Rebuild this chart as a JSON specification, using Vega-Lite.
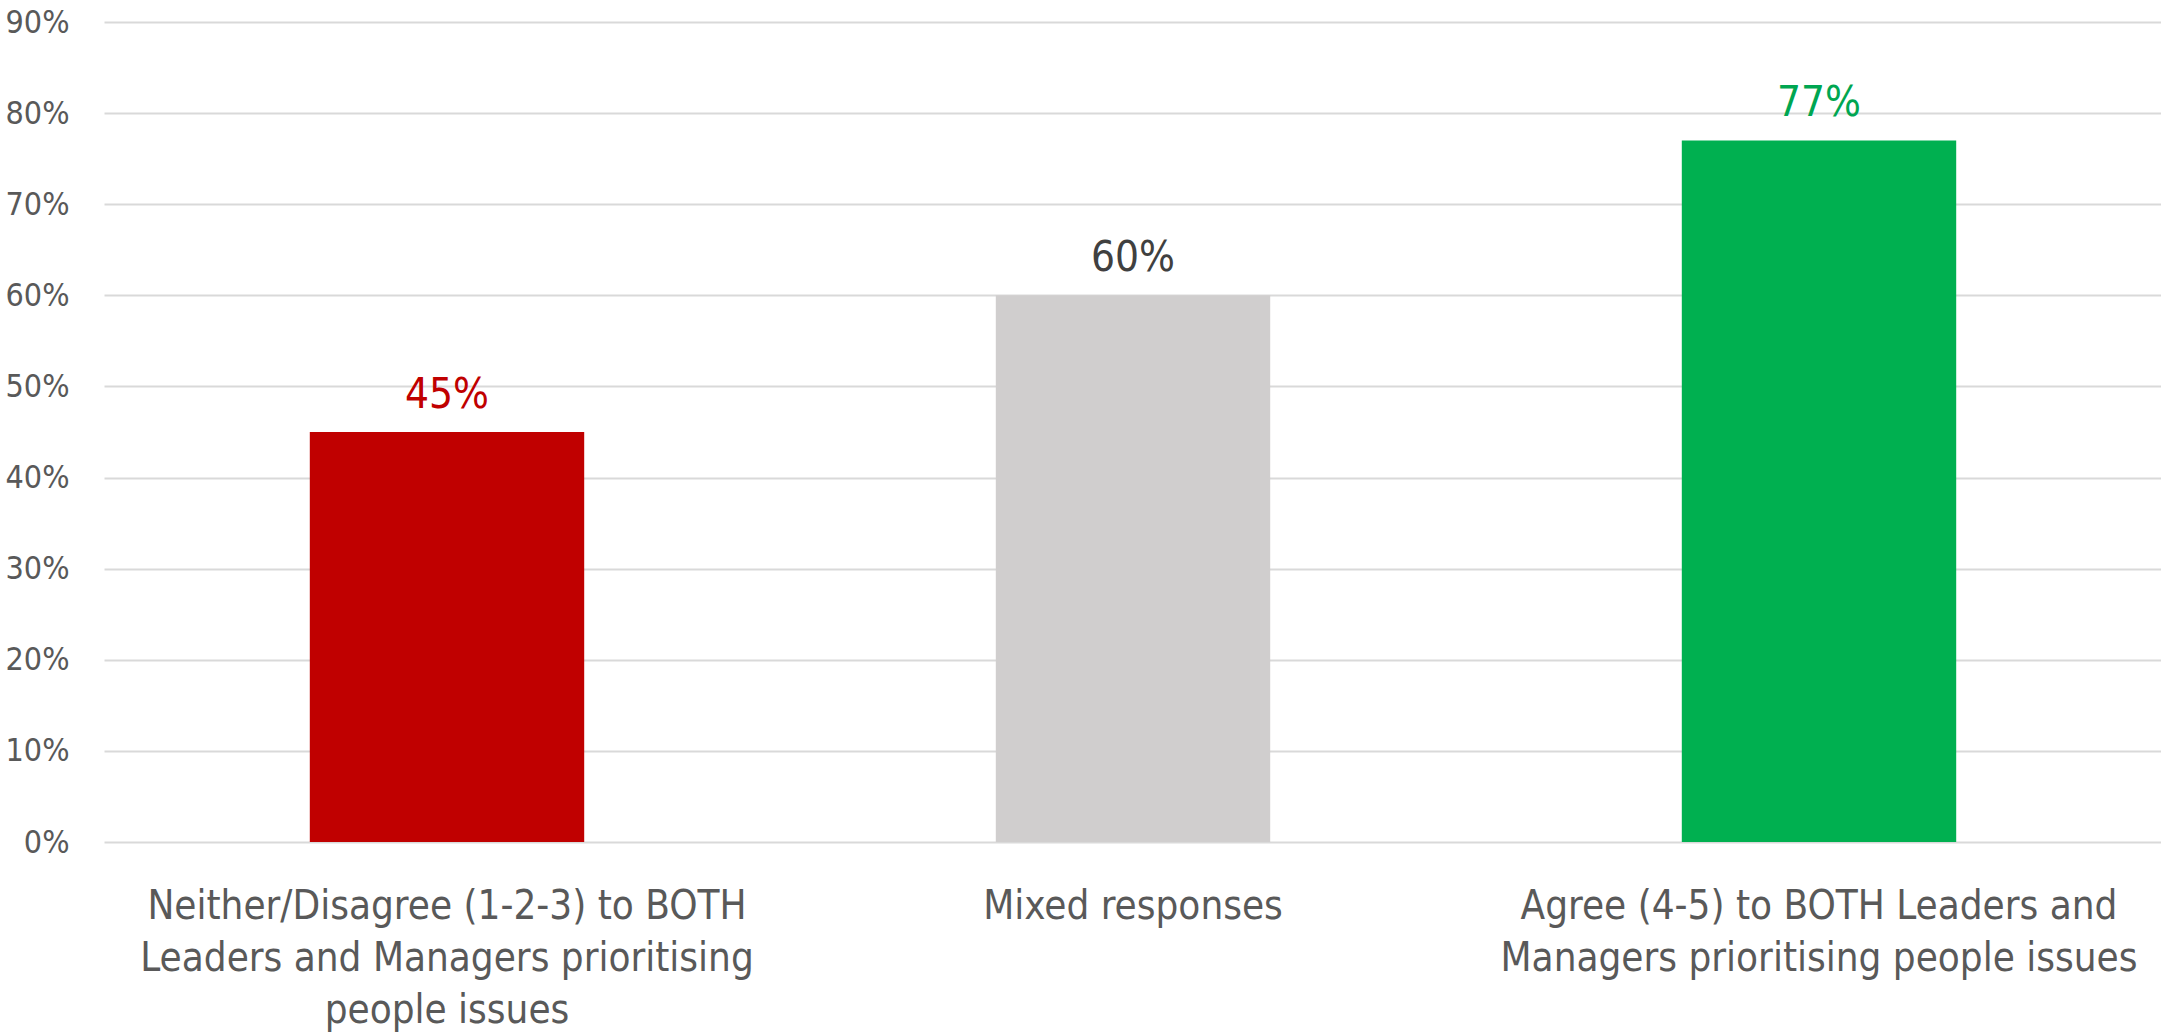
{
  "$schema": "https://vega.github.io/schema/vega-lite/v6.json",
  "width": 2058,
  "height": 820,
  "autosize": {"type": "none"},
  "padding": {"left": 104, "top": 22, "right": 0, "bottom": 191},
  "background": "white",
  "config": {"view": {"stroke": null}},
  "data": {
    "values": [
      {"group": "Neither/Disagree (1-2-3) to BOTH Leaders and Managers prioritising people issues", "value": 0.45, "label": "45%"},
      {"group": "Mixed responses", "value": 0.60, "label": "60%"},
      {"group": "Agree (4-5) to BOTH Leaders and Managers prioritising people issues", "value": 0.77, "label": "77%"}
    ]
  },
  "encoding": {
    "x": {
      "field": "group", "type": "nominal", "sort": null,
      "scale": {"paddingInner": 0.6, "paddingOuter": 0.3},
      "axis": {
        "title": null, "domain": false, "ticks": false, "labelAngle": 0,
        "labelFont": "Liberation Sans Narrow, DejaVu Sans Condensed, sans-serif",
        "labelFontSize": 40, "labelColor": "#595959", "labelLineHeight": 52,
        "labelPadding": 44, "labelLimit": 0,
        "labelExpr": "datum.value == 'Mixed responses' ? 'Mixed responses' : (indexof(datum.value, 'Neither') == 0 ? ['Neither/Disagree (1-2-3) to BOTH', 'Leaders and Managers prioritising', 'people issues'] : ['Agree (4-5) to BOTH Leaders and', 'Managers prioritising people issues'])"
      }
    },
    "y": {
      "field": "value", "type": "quantitative",
      "scale": {"domain": [0, 0.9], "nice": false},
      "axis": {
        "title": null, "domain": false, "ticks": false, "format": ".0%",
        "values": [0, 0.1, 0.2, 0.3, 0.4, 0.5, 0.6, 0.7, 0.8, 0.9],
        "gridColor": "#D9D9D9", "gridWidth": 2,
        "labelFont": "Liberation Sans Narrow, DejaVu Sans Condensed, sans-serif",
        "labelFontSize": 32, "labelColor": "#595959", "labelPadding": 35
      }
    }
  },
  "layer": [
    {
      "mark": {"type": "bar"},
      "encoding": {
        "color": {
          "field": "group", "type": "nominal", "legend": null,
          "scale": {
            "domain": ["Neither/Disagree (1-2-3) to BOTH Leaders and Managers prioritising people issues", "Mixed responses", "Agree (4-5) to BOTH Leaders and Managers prioritising people issues"],
            "range": ["#C00000", "#D0CECE", "#00B050"]
          }
        }
      }
    },
    {
      "mark": {"type": "text", "baseline": "alphabetic", "dy": -24, "fontSize": 42, "font": "Liberation Sans Narrow, DejaVu Sans Condensed, sans-serif"},
      "encoding": {
        "text": {"field": "label"},
        "color": {
          "field": "group", "type": "nominal", "legend": null,
          "scale": {
            "domain": ["Neither/Disagree (1-2-3) to BOTH Leaders and Managers prioritising people issues", "Mixed responses", "Agree (4-5) to BOTH Leaders and Managers prioritising people issues"],
            "range": ["#C00000", "#404040", "#00A651"]
          }
        }
      }
    }
  ],
  "resolve": {"scale": {"color": "independent"}}
}
